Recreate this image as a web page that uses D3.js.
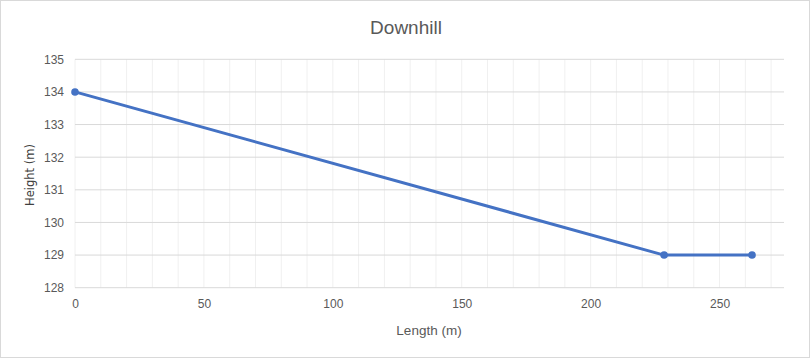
<!DOCTYPE html>
<html><head><meta charset="utf-8">
<script src="https://cdn.jsdelivr.net/npm/d3@7"></script>
<style>
html,body{margin:0;padding:0;background:#fff;}
svg{display:block;}
text{font-family:"Liberation Sans",Arial,sans-serif;}
</style></head>
<body>
<script>
const lengths = [0, 228.5, 262.6];
const heights = [134, 129, 129];
const xTicks = [0, 50, 100, 150, 200, 250];
const xMinorTicks = d3.range(0, 280, 10);
const yTicks = [128, 129, 130, 131, 132, 133, 134, 135];
const title = "Downhill";
const xTitle = "Length (m)";
const yTitle = "Height (m)";

const W = 811, H = 359;
const svg = d3.select("body").append("svg").attr("width", W).attr("height", H);

svg.append("rect").attr("x", 0.5).attr("y", 0.5).attr("width", W - 2).attr("height", H - 2)
  .attr("fill", "#fff").attr("stroke", "#d9d9d9").attr("stroke-width", 1);

const x = d3.scaleLinear().domain([0, 275]).range([75, 784]);
const y = d3.scaleLinear().domain([128, 135]).range([287.7, 59.3]);

// minor vertical gridlines
svg.append("g").selectAll("line").data(xMinorTicks).join("line")
  .attr("x1", d => x(d)).attr("x2", d => x(d))
  .attr("y1", y(135)).attr("y2", y(128))
  .attr("stroke", "#f0f0f0").attr("stroke-width", 1);

// horizontal gridlines
svg.append("g").selectAll("line").data(yTicks).join("line")
  .attr("x1", x(0)).attr("x2", x(275))
  .attr("y1", d => y(d)).attr("y2", d => y(d))
  .attr("stroke", "#d9d9d9").attr("stroke-width", 1);

// y axis labels
const yAxis = d3.axisLeft(y).tickValues(yTicks).tickFormat(d3.format("d")).tickSize(0).tickPadding(11);
svg.append("g").attr("transform", `translate(${x(0)},0)`).call(yAxis)
  .call(g => g.select(".domain").remove())
  .call(g => g.selectAll("text").attr("fill", "#595959").style("font-size", "12px")
     .style("font-family", "'Liberation Sans',sans-serif"));

// x axis labels
const xAxis = d3.axisBottom(x).tickValues(xTicks).tickFormat(d3.format("d")).tickSize(0).tickPadding(12);
svg.append("g").attr("transform", `translate(0,${y(128)})`).call(xAxis)
  .call(g => g.select(".domain").remove())
  .call(g => g.selectAll("text").attr("fill", "#595959").style("font-size", "12px")
     .style("font-family", "'Liberation Sans',sans-serif"));

// line
const pts = lengths.map((l, i) => [l, heights[i]]);
svg.append("path").datum(pts)
  .attr("d", d3.line().x(d => x(d[0])).y(d => y(d[1])))
  .attr("fill", "none").attr("stroke", "#4472c4").attr("stroke-width", 3)
  .attr("stroke-linejoin", "round").attr("stroke-linecap", "round");

svg.append("g").selectAll("circle").data(pts).join("circle")
  .attr("cx", d => x(d[0])).attr("cy", d => y(d[1])).attr("r", 3.8)
  .attr("fill", "#4472c4");

// titles
svg.append("text").attr("x", 406).attr("y", 34).attr("text-anchor", "middle")
  .attr("fill", "#595959").style("font-size", "19px").text(title);

svg.append("text").attr("x", 429).attr("y", 335).attr("text-anchor", "middle")
  .attr("fill", "#595959").style("font-size", "13.5px").text(xTitle);

svg.append("text").attr("transform", "translate(34,175) rotate(-90)").attr("text-anchor", "middle")
  .attr("fill", "#404040").style("font-size", "11.5px")
  .style("font-family", "'DejaVu Sans',sans-serif").text(yTitle);
</script>
</body></html>
